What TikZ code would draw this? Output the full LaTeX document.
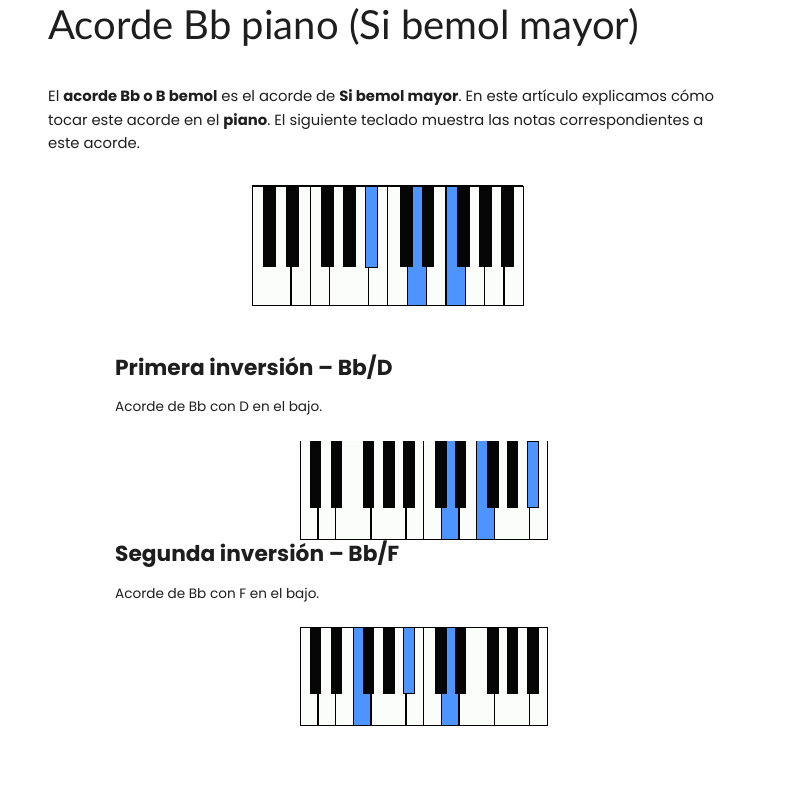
\documentclass[tikz,border=0pt]{standalone}
\usepackage{fontspec}
\setmainfont{Poppins}
\newfontfamily\titlefont{Lato}
\usepackage{xcolor}
\usepackage{tikz}
\usetikzlibrary{positioning}
\frenchspacing
\definecolor{keyblue}{RGB}{77,148,255}
\definecolor{keyivory}{RGB}{251,253,251}
\definecolor{inkgray}{RGB}{30,30,30}
\tikzset{
  pagetext/.style={inner sep=0pt, anchor=base west, text=inkgray},
  keyline/.style={draw=black, line width=1.3pt},
  whitekey/.style={fill=keyivory},
  bluekey/.style={fill=keyblue},
  blackkey/.style={fill=black!98},
}
% #1 left, #2 top, #3 key width, #4 height, #5 blue white keys,
% #6 blue black keys (left edge), #7 visible key dividers
\newcommand{\keybed}[7]{%
  \begin{scope}[shift={(#1,#2)}]
    \fill[whitekey] (0,0) rectangle (14*#3,#4);
    \foreach \i in {#5} \fill[bluekey] (\i*#3,0) rectangle ({(\i+1)*#3},#4);
    \foreach \i in {#7} \draw[keyline] (\i*#3,0) -- (\i*#3,#4);
    \foreach \b in {0.55,1.74,3.55,4.69,5.84,7.64,8.76,10.59,11.71,12.86}
      \fill[blackkey] (\b*#3,0) rectangle ({(\b+0.65)*#3},0.68*#4);
    \foreach \b in {#6}
      \filldraw[bluekey, draw=black, line width=1pt] (\b*#3,0) rectangle ({(\b+0.65)*#3},0.68*#4);
    \draw[keyline] (0,0) -- (0,#4) -- (14*#3,#4) -- (14*#3,0);
  \end{scope}}

\begin{document}
\begin{tikzpicture}[x=1pt, y=-1pt]
  \useasboundingbox (0,0) rectangle (803,806);

  % heading and intro
  \node[pagetext, font=\titlefont\fontsize{40}{46}\selectfont] (title) at (48,39)
    {Acorde Bb piano (Si bemol mayor)};
  \node[pagetext, font=\fontsize{14.8}{18}\selectfont] (para1) at (48,101)
    {El \textbf{acorde Bb o B bemol} es el acorde de \textbf{Si bemol mayor}. En este artículo explicamos cómo};
  \node[pagetext, font=\fontsize{14.8}{18}\selectfont] (para2) at (48,125)
    {tocar este acorde en el \textbf{piano}. El siguiente teclado muestra las notas correspondientes a};
  \node[pagetext, font=\fontsize{14.8}{18}\selectfont] (para3) at (48,148)
    {este acorde.};

  % root position
  \keybed{252.3}{186}{19.36}{119.3}{8,10}{5.84}{2,3,4,6,7,8,9,10,11,12,13}
  \draw[keyline] (252.3,186) -- (523.3,186);

  % first inversion
  \node[pagetext, font=\fontsize{21.7}{25}\selectfont\bfseries] (head1) at (115,375)
    {Primera inversión – Bb/D};
  \node[pagetext, font=\fontsize{13.6}{16}\selectfont] (note1) at (115,411.7)
    {Acorde de Bb con D en el bajo.};
  \keybed{300.3}{441}{17.64}{98.3}{8,10}{12.86}{1,2,4,6,7,8,9,10,11,13}

  % second inversion
  \node[pagetext, font=\fontsize{21.7}{25}\selectfont\bfseries] (head2) at (115,561.7)
    {Segunda inversión – Bb/F};
  \node[pagetext, font=\fontsize{13.6}{16}\selectfont] (note2) at (115,598.3)
    {Acorde de Bb con F en el bajo.};
  \keybed{300.3}{627.3}{17.64}{98}{3,8}{5.84}{1,2,3,4,6,7,8,9,11,13}
  \draw[keyline] (300.3,627.3) -- (547.3,627.3);
\end{tikzpicture}
\end{document}
